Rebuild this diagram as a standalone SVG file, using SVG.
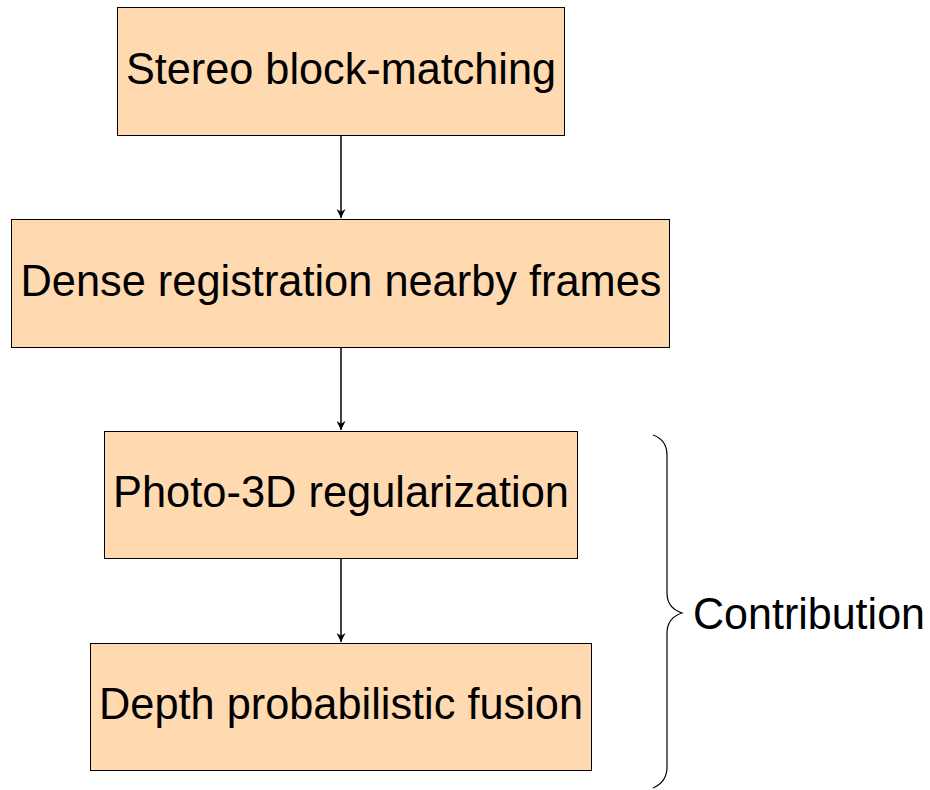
<svg xmlns="http://www.w3.org/2000/svg" width="930" height="790" viewBox="0 0 930 790">
  <style>
    .box { fill: #ffd9b0; stroke: #000; stroke-width: 1; }
    .label { font-family: "Liberation Sans", Arial, sans-serif; font-size: 44px; fill: #000; text-anchor: middle; }
    .link { stroke: #000; stroke-width: 1.5; fill: none; marker-end: url(#arrow); }
    .brace { stroke: #000; stroke-width: 1.2; fill: none; }
  </style>
  <defs>
    <marker id="arrow" viewBox="0 0 10 10" refX="10" refY="5" markerWidth="9" markerHeight="9" markerUnits="userSpaceOnUse" orient="auto">
      <path d="M0,0 L10,5 L0,10 L3,5 Z" fill="#000"/>
    </marker>
  </defs>

  <rect width="930" height="790" fill="#fff"/>

  <g id="connectors">
    <line class="link" x1="341" y1="135" x2="341" y2="218"/>
    <line class="link" x1="341" y1="347" x2="341" y2="430"/>
    <line class="link" x1="341" y1="558" x2="341" y2="642"/>
  </g>

  <g id="stereo">
    <rect class="box" x="117.5" y="7.5" width="447" height="128"/>
    <text class="label" x="341" y="84" textLength="430" lengthAdjust="spacingAndGlyphs">Stereo block-matching</text>
  </g>

  <g id="dense">
    <rect class="box" x="11.5" y="219.5" width="658" height="128"/>
    <text class="label" x="341" y="296" textLength="641" lengthAdjust="spacingAndGlyphs">Dense registration nearby frames</text>
  </g>

  <g id="photo3d">
    <rect class="box" x="104.5" y="431.5" width="473" height="127"/>
    <text class="label" x="341" y="507" textLength="456" lengthAdjust="spacingAndGlyphs">Photo-3D regularization</text>
  </g>

  <g id="fusion">
    <rect class="box" x="90.5" y="643.5" width="501" height="127"/>
    <text class="label" x="341" y="719" textLength="484" lengthAdjust="spacingAndGlyphs">Depth probabilistic fusion</text>
  </g>

  <g id="contribution">
    <path class="brace" d="M653,435 Q667,440 667,455 L667,593 Q667,608 682,613 Q667,618 667,633 L667,767 Q667,782 653,788"/>
    <text class="label" x="693" y="629" style="text-anchor:start" textLength="232" lengthAdjust="spacingAndGlyphs">Contribution</text>
  </g>
</svg>
